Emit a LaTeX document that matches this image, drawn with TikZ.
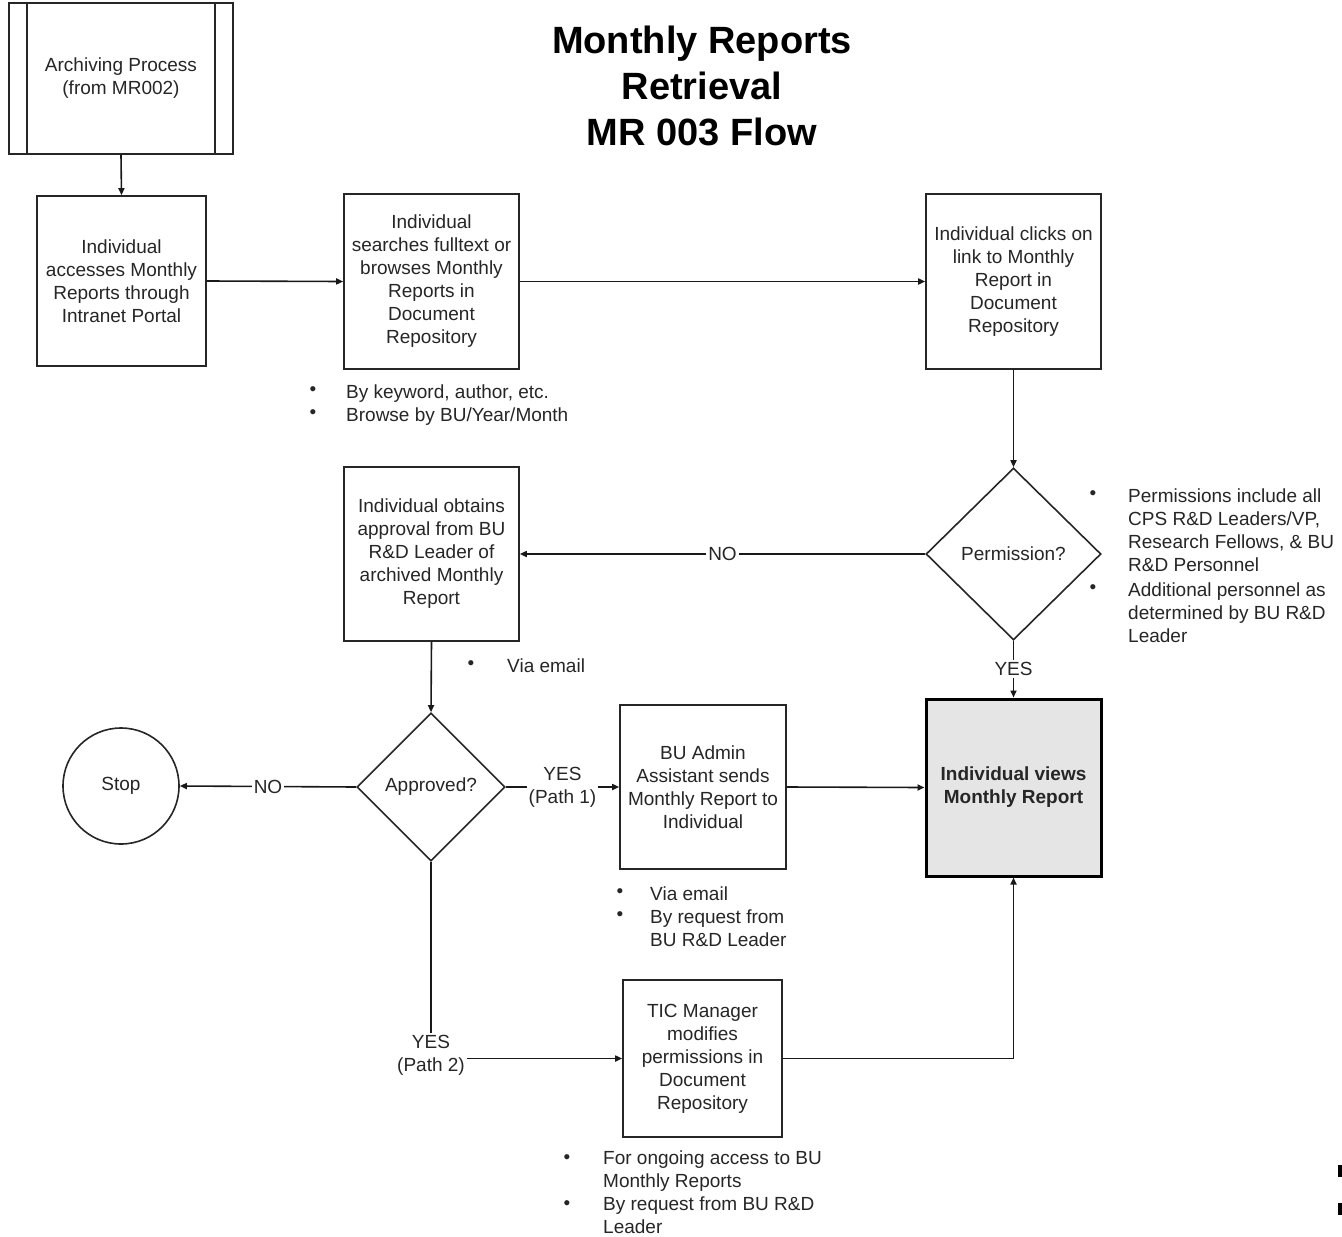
\documentclass[tikz,border=0pt]{standalone}
\usepackage{fontspec}
\setmainfont{Liberation Sans}
\usetikzlibrary{shapes.geometric,arrows.meta}
\begin{document}
\begin{tikzpicture}[x=1pt,y=-1pt,
  every node/.style={font=\fontsize{19}{23}\selectfont, text=black!85},
  box/.style={draw=black!85, line width=1.6pt, rectangle, align=center, inner sep=2pt},
  dec/.style={draw=black!85, line width=1.6pt, diamond, inner sep=0pt, align=center},
  arr/.style={line width=1.6pt, draw=black!90, -{Triangle[length=7pt,width=6pt]}},
  lbl/.style={fill=white, inner sep=2pt, align=center},
  bul/.style={anchor=center, inner sep=0pt},
  btxt/.style={anchor=north west, align=left, inner sep=0pt}
]
\useasboundingbox (0,0) rectangle (1342,1237);
\fill[white] (0,0) rectangle (1342,1237);

% title
\node[font=\bfseries\fontsize{38}{46}\selectfont, text=black, align=center] (title) at (702,86) {Monthly Reports\\Retrieval\\MR 003 Flow};

% nodes
\node[box, minimum width=224pt, minimum height=151pt] (arch) at (121,78.5) {Archiving Process\\(from MR002)};
\draw[line width=1.6pt, draw=black!85] ([xshift=19pt]arch.north west) -- ([xshift=19pt]arch.south west);
\draw[line width=1.6pt, draw=black!85] ([xshift=-19pt]arch.north east) -- ([xshift=-19pt]arch.south east);

\node[box, minimum width=169pt, minimum height=170pt] (b1) at (121.5,281) {Individual\\accesses Monthly\\Reports through\\Intranet Portal};
\node[box, minimum width=175pt, minimum height=175pt] (b2) at (431.5,281.5) {Individual\\searches fulltext or\\browses Monthly\\Reports in\\Document\\Repository};
\node[box, minimum width=175pt, minimum height=175pt] (b3) at (1013.5,281.5) {Individual clicks on\\link to Monthly\\Report in\\Document\\Repository};
\node[dec, minimum width=175pt, minimum height=172pt] (perm) at (1013.5,554) {Permission?};
\node[box, minimum width=175pt, minimum height=174pt] (b4) at (431.5,554) {Individual obtains\\approval from BU\\R\&D Leader of\\archived Monthly\\Report};
\node[dec, minimum width=148pt, minimum height=148pt] (appr) at (431,787) {Approved?};
\node[draw=black!85, line width=1.6pt, circle, minimum size=116pt, inner sep=0pt] (stop) at (121,786) {Stop};
\node[box, minimum width=166pt, minimum height=164pt] (b5) at (703,787) {BU Admin\\Assistant sends\\Monthly Report to\\Individual};
\node[box, line width=3pt, draw=black, fill=black!10, minimum width=175pt, minimum height=177pt, font=\bfseries\fontsize{19}{23}\selectfont] (fin) at (1013.5,787.5) {Individual views\\Monthly Report};
\node[box, minimum width=159pt, minimum height=157pt] (b7) at (702.5,1058.5) {TIC Manager\\modifies\\permissions in\\Document\\Repository};

% connectors
\draw[arr] (arch.south) -- (b1.north);
\draw[arr] (b1.east) -- (b2.west);
\draw[arr] (b2.east) -- (b3.west);
\draw[arr] (b3.south) -- (perm.north);
\draw[arr] (perm.west) -- node[lbl] (lno1) {NO} (b4.east);
\draw[arr] (perm.south) -- node[lbl] (lyes0) {YES} (fin.north);
\draw[arr] (b4.south) -- (appr.north);
\draw[arr] (appr.west) -- node[lbl] (lno2) {NO} (stop.east);
\draw[arr] (appr.east) -- node[lbl] (lyes1) {YES\\(Path 1)} (b5.west);
\draw[arr] (b5.east) -- (fin.west);
\draw[arr] (appr.south) |- node[lbl, pos=0.5, yshift=3pt] (lyes2) {YES\\(Path 2)} (b7.west);
\draw[arr] (b7.east) -| (fin.south);

% bullet notes
\node[bul] (n1a) at (313,391) {\textbullet};
\node[btxt] (t1a) at (346,385) {By keyword, author, etc.};
\node[bul] (n1b) at (313,414) {\textbullet};
\node[btxt] (t1b) at (346,408) {Browse by BU/Year/Month};

\node[bul] (n2a) at (1093,495) {\textbullet};
\node[btxt] (t2a) at (1128,489) {Permissions include all\\CPS R\&D Leaders/VP,\\Research Fellows, \& BU\\R\&D Personnel};
\node[bul] (n2b) at (1093,589) {\textbullet};
\node[btxt] (t2b) at (1128,583) {Additional personnel as\\determined by BU R\&D\\Leader};

\node[bul] (n3a) at (471,665) {\textbullet};
\node[btxt] (t3a) at (507,659) {Via email};

\node[bul] (n4a) at (620,893) {\textbullet};
\node[btxt] (t4a) at (650,887) {Via email};
\node[bul] (n4b) at (620,916) {\textbullet};
\node[btxt] (t4b) at (650,910) {By request from\\BU R\&D Leader};

\node[bul] (n5a) at (567,1159) {\textbullet};
\node[btxt] (t5a) at (603,1151) {For ongoing access to BU\\Monthly Reports};
\node[bul] (n5b) at (567,1205) {\textbullet};
\node[btxt] (t5b) at (603,1197) {By request from BU R\&D\\Leader};

% edge marks
\fill[black] (1338,1165) rectangle (1342,1177);
\fill[black] (1338,1203) rectangle (1342,1215);
\end{tikzpicture}
\end{document}
